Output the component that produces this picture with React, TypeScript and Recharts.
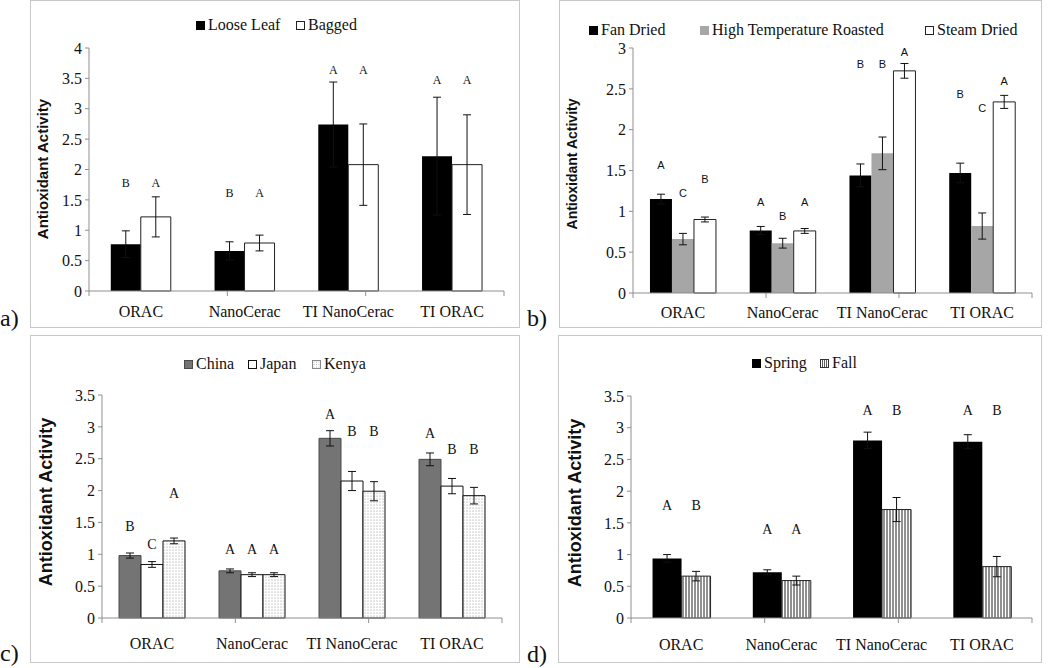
import React from 'react';
import { BarChart, Bar, XAxis, YAxis, ErrorBar, LabelList, Label } from 'recharts';

const categories = ['ORAC', 'NanoCerac', 'TI NanoCerac', 'TI ORAC'];

// a) loose leaf vs bagged
const looseLeaf = [0.77, 0.66, 2.74, 2.22];
const looseLeafErr = [0.22, 0.15, 0.7, 0.97];
const looseLeafLetters = ['B', 'B', 'A', 'A'];
const looseLeafLetterAt = [1.78, 1.62, 3.63, 3.47];
const bagged = [1.22, 0.79, 2.08, 2.08];
const baggedErr = [0.33, 0.13, 0.67, 0.82];
const baggedLetters = ['A', 'A', 'A', 'A'];
const baggedLetterAt = [1.78, 1.62, 3.63, 3.47];

// b) processing
const fanDried = [1.15, 0.765, 1.44, 1.47];
const fanDriedErr = [0.06, 0.05, 0.14, 0.12];
const fanDriedLetters = ['A', 'A', 'B', 'B'];
const fanDriedLetterAt = [1.57, 1.11, 2.8, 2.44];
const roasted = [0.66, 0.61, 1.71, 0.82];
const roastedErr = [0.07, 0.06, 0.2, 0.16];
const roastedLetters = ['C', 'B', 'B', 'C'];
const roastedLetterAt = [1.23, 0.94, 2.8, 2.27];
const steamDried = [0.9, 0.76, 2.72, 2.34];
const steamDriedErr = [0.03, 0.03, 0.09, 0.08];
const steamDriedLetters = ['B', 'A', 'A', 'A'];
const steamDriedLetterAt = [1.4, 1.11, 2.95, 2.6];

// c) origin
const china = [0.98, 0.74, 2.82, 2.49];
const chinaErr = [0.04, 0.03, 0.12, 0.1];
const chinaLetters = ['B', 'A', 'A', 'A'];
const chinaLetterAt = [1.43, 1.08, 3.19, 2.9];
const japan = [0.84, 0.68, 2.15, 2.07];
const japanErr = [0.045, 0.03, 0.15, 0.12];
const japanLetters = ['C', 'A', 'B', 'B'];
const japanLetterAt = [1.16, 1.08, 2.93, 2.64];
const kenya = [1.21, 0.68, 1.99, 1.92];
const kenyaErr = [0.045, 0.03, 0.15, 0.13];
const kenyaLetters = ['A', 'A', 'B', 'B'];
const kenyaLetterAt = [1.96, 1.08, 2.93, 2.64];

// d) season
const spring = [0.94, 0.72, 2.8, 2.78];
const springErr = [0.06, 0.04, 0.13, 0.11];
const springLetters = ['A', 'A', 'A', 'A'];
const springLetterAt = [1.77, 1.4, 3.27, 3.27];
const fall = [0.66, 0.59, 1.71, 0.81];
const fallErr = [0.075, 0.07, 0.19, 0.16];
const fallLetters = ['B', 'A', 'B', 'B'];
const fallLetterAt = [1.77, 1.4, 3.27, 3.27];

const ticks4 = [0, 0.5, 1, 1.5, 2, 2.5, 3, 3.5, 4];
const ticks3 = [0, 0.5, 1, 1.5, 2, 2.5, 3];
const ticks35 = [0, 0.5, 1, 1.5, 2, 2.5, 3, 3.5];
// category boundaries on the x axis (0..4 groups)
const groupEdges = [0, 1, 2, 3, 4];

const AXIS = '#8f8f8f';
const SERIF = '"Liberation Serif", "DejaVu Serif", serif';
const SANS = '"Liberation Sans", Arial, sans-serif';

type Series = {
  key: string;
  name: string;
  values: number[];
  errors: number[];
  letters: string[];
  letterAt: number[];
  fill: string;
  stroke?: string;
  swatch: 'solid' | 'dots' | 'stripes';
};

type PanelProps = {
  id: string;
  tag: string;
  tagLeft: number;
  tagTop: number;
  left: number;
  top: number;
  width: number;
  height: number;
  plot: { left: number; top: number; right: number; bottom: number };
  yMax: number;
  yTicks: number[];
  series: Series[];
  gap: string;
  letterSize: number;
  letterFont: string;
  yLabel: { x: number; y: number; size: number };
  catMargin: number;
  legendY: number;
  legendX: number[];
};

const letterContent = (s: Series, size: number, font: string) => (p: any) => {
  const { x, y, width, height, value, index } = p;
  if (!value || index == null) return null;
  const per = Number(height) / Number(value);
  const ly = Number(y) + Number(height) - s.letterAt[index] * per;
  return (
    <text
      x={Number(x) + Number(width) / 2}
      y={ly}
      textAnchor="middle"
      dominantBaseline="central"
      fontSize={size}
      fontFamily={font}
      fill="#111"
    >
      {s.letters[index]}
    </text>
  );
};

const noTickText = () => <g />;

const Swatch = ({ s }: { s: Series }) => (
  <svg width={9} height={9} style={{ display: 'block' }}>
    {s.swatch === 'solid' && (
      <rect x={0.5} y={0.5} width={8} height={8} fill={s.fill} stroke={s.stroke ?? s.fill} strokeWidth={1} />
    )}
    {s.swatch === 'dots' && (
      <>
        <rect x={0.5} y={0.5} width={8} height={8} fill="#fff" stroke="#888" />
        {[2, 4.5, 7].map((cx) =>
          [2, 4.5, 7].map((cy) => <circle key={`${cx}-${cy}`} cx={cx} cy={cy} r={0.5} fill="#999" />)
        )}
      </>
    )}
    {s.swatch === 'stripes' && (
      <>
        <rect x={0.5} y={0.5} width={8} height={8} fill="#fff" stroke="#333" />
        {[2.5, 4.5, 6.5].map((lx) => (
          <line key={lx} x1={lx} x2={lx} y1={1} y2={8} stroke="#333" strokeWidth={0.8} />
        ))}
      </>
    )}
  </svg>
);

const Panel = (p: PanelProps) => {
  const chartW = p.width - 2;
  const chartH = p.height - 2;
  const rows = categories.map((name, i) => {
    const row: Record<string, any> = { name };
    p.series.forEach((s) => {
      row[s.key] = s.values[i];
      row[s.key + 'Err'] = s.errors[i];
    });
    return row;
  });
  const bottomSpace = chartH - p.plot.bottom;
  const dotsId = `dots-${p.id}`;
  const stripesId = `stripes-${p.id}`;

  return (
    <>
      <div
        style={{
          position: 'absolute',
          left: p.left,
          top: p.top,
          width: p.width,
          height: p.height,
          boxSizing: 'border-box',
          border: '1px solid #c8c8c8',
          background: '#fff',
        }}
      >
        <BarChart
          width={chartW}
          height={chartH}
          data={rows}
          barCategoryGap={p.gap}
          barGap={0}
          margin={{ top: p.plot.top, right: chartW - p.plot.right, left: 4, bottom: 0 }}
        >
          <defs>
            <pattern id={dotsId} width={3} height={3} patternUnits="userSpaceOnUse">
              <rect width={3} height={3} fill="#fff" />
              <circle cx={1} cy={1} r={0.55} fill="#8a8a8a" />
            </pattern>
            <pattern id={stripesId} width={3} height={3} patternUnits="userSpaceOnUse">
              <rect width={3} height={3} fill="#fff" />
              <line x1={1} x2={1} y1={0} y2={3} stroke="#222" strokeWidth={1} />
            </pattern>
          </defs>
          <XAxis
            xAxisId="x1"
            type="number"
            domain={[0, 4]}
            ticks={groupEdges}
            tick={noTickText}
            interval={0}
            height={6}
            tickSize={5}
            stroke={AXIS}
            allowDataOverflow
          />
          <XAxis
            xAxisId="x2"
            dataKey="name"
            axisLine={false}
            tickLine={false}
            height={bottomSpace - 6}
            tickMargin={p.catMargin}
            interval={0}
            tick={{ fill: '#111', fontSize: 16, fontFamily: SERIF }}
          />
          <YAxis
            width={p.plot.left - 4}
            domain={[0, p.yMax]}
            ticks={p.yTicks}
            stroke={AXIS}
            tickSize={4}
            tickMargin={3}
            interval={0}
            tick={{ fill: '#111', fontSize: 16, fontFamily: SERIF }}
          >
            <Label
              content={() => (
                <text
                  x={p.yLabel.x}
                  y={p.yLabel.y}
                  transform={`rotate(-90, ${p.yLabel.x}, ${p.yLabel.y})`}
                  textAnchor="middle"
                  dominantBaseline="central"
                  fontSize={p.yLabel.size}
                  fontWeight="bold"
                  fontFamily={SANS}
                  fill="#111"
                >
                  Antioxidant Activity
                </text>
              )}
            />
          </YAxis>
          {p.series.map((s) => (
            <Bar
              key={s.key}
              xAxisId="x2"
              dataKey={s.key}
              name={s.name}
              fill={
                s.swatch === 'dots'
                  ? `url(#${dotsId})`
                  : s.swatch === 'stripes'
                  ? `url(#${stripesId})`
                  : s.fill
              }
              stroke={s.stroke ?? 'none'}
              strokeWidth={1}
              isAnimationActive={false}
            >
              <ErrorBar dataKey={s.key + 'Err'} width={4} stroke="#111" strokeWidth={1} direction="y" />
              <LabelList dataKey={s.key} content={letterContent(s, p.letterSize, p.letterFont)} />
            </Bar>
          ))}
        </BarChart>
        {p.series.map((s, i) => (
          <div
            key={s.key}
            style={{
              position: 'absolute',
              left: p.legendX[i],
              top: p.legendY - 10,
              height: 20,
              display: 'flex',
              alignItems: 'center',
              gap: 3,
              fontFamily: SERIF,
              fontSize: 16,
              color: '#111',
              whiteSpace: 'nowrap',
            }}
          >
            <Swatch s={s} />
            <span>{s.name}</span>
          </div>
        ))}
      </div>
      <div
        style={{
          position: 'absolute',
          left: p.tagLeft,
          top: p.tagTop,
          fontFamily: SERIF,
          fontSize: 24,
          lineHeight: '24px',
          color: '#111',
        }}
      >
        {p.tag}
      </div>
    </>
  );
};

export default function App() {
  return (
    <div style={{ position: 'absolute', left: 0, top: 0, width: 1050, height: 668, background: '#fff', overflow: 'hidden' }}>
      <Panel
        id="pa"
        tag="a)"
        tagLeft={0}
        tagTop={306}
        left={30}
        top={0}
        width={490}
        height={328}
        plot={{ left: 58, top: 47, right: 473, bottom: 290 }}
        yMax={4}
        yTicks={ticks4}
        gap="21%"
        letterSize={12}
        letterFont={SERIF}
        yLabel={{ x: 11, y: 168, size: 15 }}
        catMargin={3}
        legendY={24}
        legendX={[165, 265]}
        series={[
          { key: 'loose', name: 'Loose Leaf', values: looseLeaf, errors: looseLeafErr, letters: looseLeafLetters, letterAt: looseLeafLetterAt, fill: '#000', swatch: 'solid' },
          { key: 'bagged', name: 'Bagged', values: bagged, errors: baggedErr, letters: baggedLetters, letterAt: baggedLetterAt, fill: '#fff', stroke: '#222', swatch: 'solid' },
        ]}
      />
      <Panel
        id="pb"
        tag="b)"
        tagLeft={527}
        tagTop={306}
        left={559}
        top={0}
        width={483}
        height={328}
        plot={{ left: 73, top: 47, right: 472, bottom: 292 }}
        yMax={3}
        yTicks={ticks3}
        gap="17%"
        letterSize={11}
        letterFont={SANS}
        yLabel={{ x: 12, y: 163, size: 14 }}
        catMargin={2}
        legendY={29}
        legendX={[29, 140, 365]}
        series={[
          { key: 'fan', name: 'Fan Dried', values: fanDried, errors: fanDriedErr, letters: fanDriedLetters, letterAt: fanDriedLetterAt, fill: '#000', swatch: 'solid' },
          { key: 'roast', name: 'High Temperature Roasted', values: roasted, errors: roastedErr, letters: roastedLetters, letterAt: roastedLetterAt, fill: '#a6a6a6', swatch: 'solid' },
          { key: 'steam', name: 'Steam Dried', values: steamDried, errors: steamDriedErr, letters: steamDriedLetters, letterAt: steamDriedLetterAt, fill: '#fff', stroke: '#222', swatch: 'solid' },
        ]}
      />
      <Panel
        id="pc"
        tag="c)"
        tagLeft={0}
        tagTop={641}
        left={30}
        top={335}
        width={490}
        height={328}
        plot={{ left: 71, top: 59, right: 471, bottom: 282 }}
        yMax={3.5}
        yTicks={ticks35}
        gap="17%"
        letterSize={14}
        letterFont={SERIF}
        yLabel={{ x: 15, y: 166, size: 18 }}
        catMargin={8}
        legendY={28}
        legendX={[153, 217, 281]}
        series={[
          { key: 'china', name: 'China', values: china, errors: chinaErr, letters: chinaLetters, letterAt: chinaLetterAt, fill: '#747474', stroke: '#4a4a4a', swatch: 'solid' },
          { key: 'japan', name: 'Japan', values: japan, errors: japanErr, letters: japanLetters, letterAt: japanLetterAt, fill: '#fff', stroke: '#111', swatch: 'solid' },
          { key: 'kenya', name: 'Kenya', values: kenya, errors: kenyaErr, letters: kenyaLetters, letterAt: kenyaLetterAt, fill: '#fff', stroke: '#111', swatch: 'dots' },
        ]}
      />
      <Panel
        id="pd"
        tag="d)"
        tagLeft={527}
        tagTop={642}
        left={558}
        top={335}
        width={484}
        height={328}
        plot={{ left: 72, top: 60, right: 473, bottom: 282 }}
        yMax={3.5}
        yTicks={ticks35}
        gap="21.5%"
        letterSize={14}
        letterFont={SERIF}
        yLabel={{ x: 16, y: 167, size: 18 }}
        catMargin={9}
        legendY={27}
        legendX={[193, 261]}
        series={[
          { key: 'spring', name: 'Spring', values: spring, errors: springErr, letters: springLetters, letterAt: springLetterAt, fill: '#000', swatch: 'solid' },
          { key: 'fall', name: 'Fall', values: fall, errors: fallErr, letters: fallLetters, letterAt: fallLetterAt, fill: '#fff', stroke: '#222', swatch: 'stripes' },
        ]}
      />
    </div>
  );
}
